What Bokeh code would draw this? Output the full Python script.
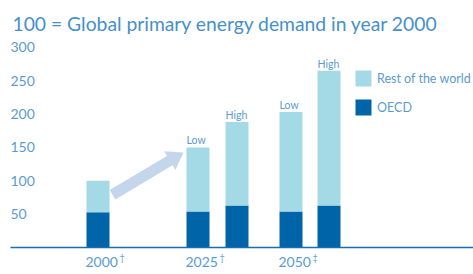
import math
from bokeh.plotting import figure
from bokeh.models import Range1d, Legend, LegendItem
from bokeh.core.properties import value
from bokeh.embed import file_html
from bokeh.resources import INLINE

# ---- data ----
periods = ["2000", "2025", "2050"]
period_notes = ["\u2020", "\u2020", "\u2021"]
scenarios = ["", "Low", "High", "Low", "High"]
oecd = [53, 54, 63, 54, 63]
total = [100, 150, 188, 203, 265]
rest_of_world = [t - o for t, o in zip(total, oecd)]
y_ticks = [50, 100, 150, 200, 250, 300]
series_names = ["Rest of the world", "OECD"]
title_text = "100 = Global primary energy demand in year 2000"

# ---- layout (pixel-like x units) ----
W, H = 473, 274
bar_left = [86, 186, 225, 279, 317]
bar_w = 23
period_bar = [0, 1, 3]
xs = [l + bar_w / 2 for l in bar_left]

LIGHT = "#a3dae6"
DARK = "#0064a8"
TXT = "#5b9bd0"
TITLE = "#4690c9"
ARROW = "#c4d6ec"
FONT = "Lato"

ky = 0.667  # px per unit
zero_px = 247
y_top = zero_px / ky
y_bot = y_top - H / ky
p = figure(width=W, height=H, output_backend="svg", toolbar_location=None,
           x_range=Range1d(0, W), y_range=Range1d(y_bot, y_top),
           min_border=0, outline_line_color=None)
p.axis.visible = False
p.grid.visible = False
p.background_fill_color = "white"


def to_val(py):  # screen y -> value
    return y_top - py / ky


def to_px(v):
    return (y_top - v) * ky


r_oecd = p.vbar(x=xs, width=bar_w, bottom=0, top=oecd, fill_color=DARK, line_color=None)
r_row = p.vbar(x=xs, width=bar_w, bottom=oecd, top=total, fill_color=LIGHT, line_color=None)

# baseline
p.segment(x0=[10], y0=[0], x1=[W], y1=[0], line_color="#1a6db0", line_width=1.6)

# arrow from 2000 bar to 2025 Low bar
tx, ty = bar_left[0] + bar_w + 3, to_px(total[0]) + 14
hx, hy = bar_left[1] - 3, to_px(total[1]) + 5
dx, dy = hx - tx, hy - ty
L = math.hypot(dx, dy)
ux, uy = dx / L, dy / L
nx, ny = -uy, ux
sw, hw, hl = 5.5, 11, 16
bx, by = hx - ux * hl, hy - uy * hl
pts = [(tx + nx * sw, ty + ny * sw), (bx + nx * sw, by + ny * sw), (bx + nx * hw, by + ny * hw),
       (hx, hy), (bx - nx * hw, by - ny * hw), (bx - nx * sw, by - ny * sw), (tx - nx * sw, ty - ny * sw)]
p.patch(x=[q[0] for q in pts], y=[to_val(q[1]) for q in pts], fill_color=ARROW, line_color=None)

# title
p.text(x=[12], y=[to_val(23)], text=[title_text], text_font=value(FONT), text_font_size="19.3px",
       text_color=TITLE, text_baseline="alphabetic", text_align="left")

# y tick labels
p.text(x=[10] * len(y_ticks), y=y_ticks, text=[str(t) for t in y_ticks], text_font=value(FONT),
       text_font_size="14px", text_color=TXT, text_baseline="middle", text_align="left")

# scenario labels
sx = [bar_left[i] for i, s in enumerate(scenarios) if s]
sy = [total[i] + 10.5 for i, s in enumerate(scenarios) if s]
st = [s for s in scenarios if s]
p.text(x=sx, y=sy, text=st, text_font=value(FONT), text_font_size="10.5px", text_color=TXT,
       text_baseline="alphabetic", text_align="left")

# period labels with superscript notes
px0 = [bar_left[i] - 1 for i in period_bar]
p.text(x=px0, y=[to_val(256)] * 3, text=periods,
       text_font=value(FONT), text_font_size="14px", text_color=TXT, text_baseline="top", text_align="left")
p.text(x=[x + len(s) * 8.1 + 1.5 for x, s in zip(px0, periods)], y=[to_val(251.5)] * 3, text=period_notes,
       text_font=value(FONT), text_font_size="9px", text_color=TXT, text_baseline="top", text_align="left")

legend = Legend(items=[LegendItem(label=series_names[0], renderers=[r_row]),
                       LegendItem(label=series_names[1], renderers=[r_oecd])],
                location=(353, H - 68 - 49), orientation="vertical",
                glyph_width=20, glyph_height=20, spacing=9, padding=0, margin=0,
                label_standoff=4, label_text_font=FONT, label_text_font_size="12.5px",
                label_text_color=TXT, border_line_color=None, background_fill_alpha=0)
p.add_layout(legend)

open("out.html", "w").write(file_html(p, INLINE))
